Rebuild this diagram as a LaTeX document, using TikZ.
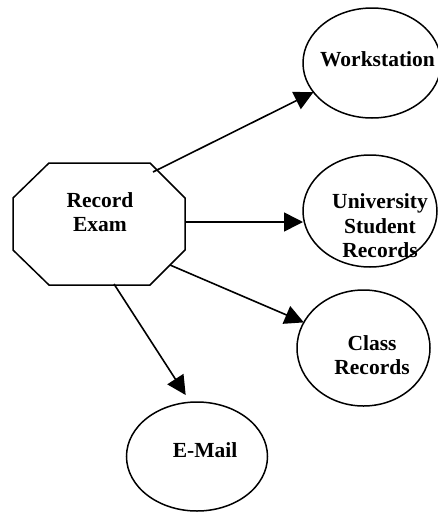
\documentclass[tikz,border=0pt]{standalone}
\usepackage{fontspec}
\setmainfont{Liberation Serif}
\usetikzlibrary{arrows.meta,shapes.geometric}

\tikzset{
  oval/.style={draw, ellipse, line width=1.5pt, inner sep=0pt, outer sep=0pt},
  label text/.style={align=center, inner sep=0pt,
    font=\fontsize{21.5pt}{24.5pt}\selectfont\bfseries},
  link/.style={line width=1.6pt, -{Triangle[length=19pt,width=19pt]}},
}

\begin{document}
\begin{tikzpicture}[x=1pt,y=-1pt]
  \useasboundingbox (0,0) rectangle (437,512);

  % process box: chamfered octagon
  \draw[line width=1.5pt]
    (49,163) -- (150,163) -- (185,198) -- (185,250) -- (150,285)
    -- (49,285) -- (13,250) -- (13,198) -- cycle;
  \node[label text] (rec) at (100,212) {Record\\Exam};

  % destinations
  \node[oval, minimum width=138pt, minimum height=110pt] (ws) at (372,63) {};
  \node[oval, minimum width=134pt, minimum height=112pt] (un) at (370,211) {};
  \node[oval, minimum width=133pt, minimum height=116pt] (cl) at (363.5,348) {};
  \node[oval, minimum width=141pt, minimum height=109pt] (em) at (197,456.5) {};

  \node[label text] (wst) at (377.5,59.5) {Workstation};
  \node[label text] (unt) at (380,226) {University\\Student\\Records};
  \node[label text] (clt) at (372,355) {Class\\Records};
  \node[label text] (emt) at (205,450) {E-Mail};

  % connector origins on the octagon
  \coordinate (o1) at (153,172);
  \coordinate (o2) at (185,222);
  \coordinate (o3) at (170,265);
  \coordinate (o4) at (114,284);

  \draw[link] (o1) -- (ws);
  \draw[link] (o2) -- (o2 -| un.west);
  \draw[link] (o3) -- (cl);
  \draw[link, shorten >=8.6pt] (o4) -- (em.97.9);
\end{tikzpicture}
\end{document}
